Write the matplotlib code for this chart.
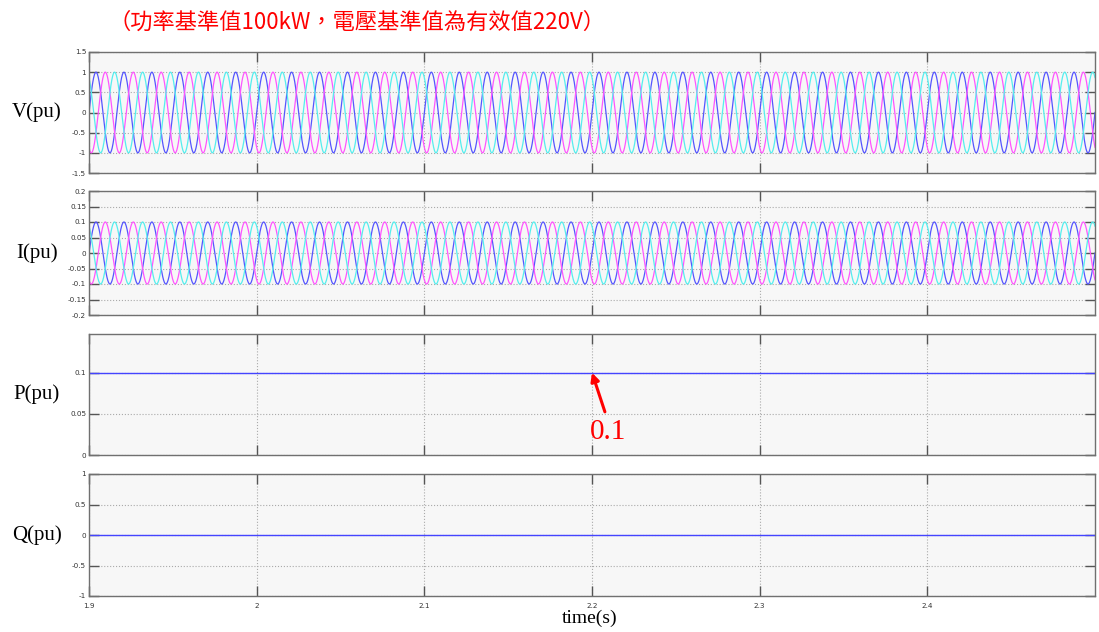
import numpy as np
import matplotlib
matplotlib.use('Agg')
import matplotlib.pyplot as plt
from matplotlib.ticker import FormatStrFormatter

# signal settings
t_start, t_end = 1.9, 2.5
freq = 60.0                      # Hz
v_amp = 1.0                      # pu
i_amp = 0.1                      # pu
p_val = 0.1                      # pu
q_val = 0.0                      # pu
phase_shift = [0.0, -2 * np.pi / 3, 2 * np.pi / 3]
phase_colors = ['#5555ff', '#ff55ff', '#55eeee']

x_ticks = [1.9, 2.0, 2.1, 2.2, 2.3, 2.4]
x_labels = ['1.9', '2', '2.1', '2.2', '2.3', '2.4']
v_ticks = [-1.5, -1, -0.5, 0, 0.5, 1, 1.5]
i_ticks = [-0.2, -0.15, -0.1, -0.05, 0, 0.05, 0.1, 0.15, 0.2]
p_ticks = [0, 0.05, 0.1]
q_ticks = [-1, -0.5, 0, 0.5, 1]

title = '（功率基準值100kW，電壓基準值為有效值220V）'

t = np.linspace(t_start, t_end, 6001)

fig = plt.figure(figsize=(10.99, 6.32), dpi=100)
W, H = 1099, 632


def add_axes(top, bottom):
    return fig.add_axes([89 / W, 1 - bottom / H, (1095 - 89) / W, (bottom - top) / H])


def style(ax, yticks, ylim, show_x=False):
    ax.set_facecolor('#f7f7f7')
    ax.set_xlim(t_start, t_end)
    ax.set_ylim(*ylim)
    ax.set_xticks(x_ticks)
    ax.set_yticks(yticks)
    ax.yaxis.set_major_formatter(FormatStrFormatter('%g'))
    if show_x:
        ax.set_xticklabels(x_labels)
    else:
        ax.set_xticklabels([])
    ax.tick_params(direction='in', length=7, width=1, color='#555555',
                   labelsize=5.2, labelcolor='#333333', pad=2,
                   top=True, right=True)
    ax.tick_params(axis='x', pad=5)
    ax.grid(True, linestyle=':', color='#aaaaaa', linewidth=0.8)
    for s in ax.spines.values():
        s.set_color('#707070')
        s.set_linewidth(1)


ax_v = add_axes(52, 173)
ax_i = add_axes(191, 315)
ax_p = add_axes(334, 455)
ax_q = add_axes(474, 596)

for ph, c in zip(phase_shift, phase_colors):
    ax_v.plot(t, v_amp * np.sin(2 * np.pi * freq * t + ph), color=c, lw=0.9)
    ax_i.plot(t, i_amp * np.sin(2 * np.pi * freq * t + ph), color=c, lw=0.9)
ax_p.plot([t_start, t_end], [p_val, p_val], color='#4444ff', lw=1)
ax_q.plot([t_start, t_end], [q_val, q_val], color='#4444ff', lw=1)

style(ax_v, v_ticks, (-1.5, 1.5))
style(ax_i, i_ticks, (-0.2, 0.2))
style(ax_p, p_ticks, (0, 0.147))
style(ax_q, q_ticks, (-1, 1), show_x=True)

serif = ['Liberation Serif', 'DejaVu Serif']
for ax, name in zip([ax_v, ax_i, ax_p, ax_q], ['V(pu)', 'I(pu)', 'P(pu)', 'Q(pu)']):
    pos = ax.get_position()
    fig.text(37 / W, pos.y0 + pos.height / 2, name, ha='center', va='center',
             fontsize=15, family=serif)

fig.text(590 / W, 1 - 618 / H, 'time(s)', ha='center', va='center',
         fontsize=14, family=serif)
fig.text(108 / W, 1 - 22 / H, title, ha='left', va='center', color='red',
         fontsize=16, family=['Noto Sans CJK TC', 'DejaVu Sans'])

ax_p.annotate('', xy=(2.2, p_val), xytext=(2.2077, 0.0524),
              arrowprops=dict(arrowstyle='-|>', color='red', lw=2.2,
                              mutation_scale=12, shrinkA=0, shrinkB=0),
              annotation_clip=False)
ax_p.text(2.199, 0.028, '0.1', ha='left', va='center', color='red',
          fontsize=21, family=serif, clip_on=False)

fig.savefig('out.png', dpi=100)
